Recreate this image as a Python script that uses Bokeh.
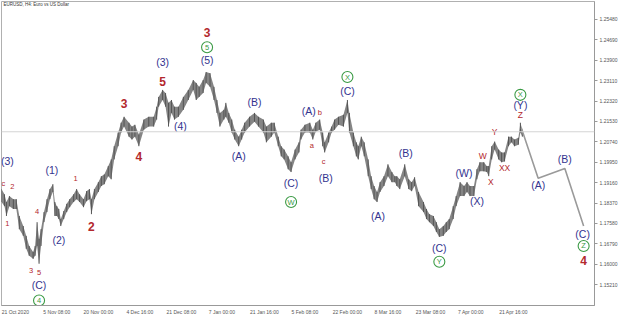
from bokeh.plotting import figure
from bokeh.models import FixedTicker, Span, Label, NumeralTickFormatter
from bokeh.embed import file_html
from bokeh.resources import INLINE
from bokeh.core.properties import value

bar = [0, 3, 5, 8, 12, 15, 18, 22, 25, 28,
       32, 34, 36, 38, 40, 43, 46, 49, 52, 54,
       56, 58, 60, 63, 66, 69, 73, 76, 79, 83,
       86, 89, 91, 94, 98, 101, 104, 108, 111, 114,
       118, 121, 124, 129, 132, 135, 139, 144, 149, 154,
       157, 159, 163, 166, 169, 172, 175, 179, 184, 189,
       194, 197, 200, 204, 207, 211, 215, 218, 221, 225,
       227, 230, 233, 236, 240, 243, 246, 251, 256, 260,
       265, 268, 273, 276, 280, 283, 286, 290, 293, 297,
       301, 303, 307, 312, 315, 318, 322, 325, 327, 331,
       334, 337, 341, 346, 350, 352, 356, 359, 361, 364,
       367, 371, 374, 377, 380, 383, 387, 391, 395, 398,
       400, 403, 408, 412, 415, 418, 422, 427, 430, 433,
       437, 440, 443, 447, 450, 453, 457, 460, 464, 468,
       471, 474, 478, 481, 484, 488, 491, 493, 496, 499,
       503, 506, 509, 513, 516, 519, 523, 525, 527]

high = [1.1891, 1.1871, 1.1841, 1.1864, 1.1852, 1.1852, 1.1787, 1.1748, 1.1710, 1.1671,
        1.1648, 1.1671, 1.1763, 1.1698, 1.1736, 1.1802, 1.1852, 1.1891, 1.1910, 1.1841,
        1.1825, 1.1814, 1.1775, 1.1806, 1.1834, 1.1852, 1.1871, 1.1891, 1.1871, 1.1852,
        1.1883, 1.1891, 1.1852, 1.1891, 1.1918, 1.1941, 1.1948, 1.1980, 1.2006, 1.2057,
        1.2110, 1.2148, 1.2171, 1.2148, 1.2133, 1.2140, 1.2102, 1.2160, 1.2171, 1.2171,
        1.2210, 1.2248, 1.2275, 1.2263, 1.2225, 1.2236, 1.2210, 1.2210, 1.2248, 1.2275,
        1.2313, 1.2302, 1.2287, 1.2313, 1.2344, 1.2340, 1.2287, 1.2236, 1.2186, 1.2198,
        1.2225, 1.2186, 1.2160, 1.2121, 1.2094, 1.2121, 1.2148, 1.2171, 1.2186, 1.2171,
        1.2160, 1.2133, 1.2148, 1.2148, 1.2094, 1.2057, 1.2044, 1.2018, 1.1995, 1.2044,
        1.2072, 1.2121, 1.2140, 1.2148, 1.2121, 1.2148, 1.2160, 1.2110, 1.2072, 1.2110,
        1.2133, 1.2160, 1.2171, 1.2179, 1.2236, 1.2186, 1.2110, 1.2072, 1.2057, 1.2094,
        1.2072, 1.2006, 1.1941, 1.1903, 1.1880, 1.1918, 1.1941, 1.1987, 1.1957, 1.1941,
        1.1941, 1.1929, 1.1987, 1.1929, 1.1918, 1.1937, 1.1880, 1.1841, 1.1814, 1.1794,
        1.1787, 1.1763, 1.1736, 1.1748, 1.1763, 1.1775, 1.1825, 1.1864, 1.1918, 1.1903,
        1.1918, 1.1903, 1.1903, 1.1968, 1.1995, 1.1995, 1.1980, 1.1980, 1.2057, 1.2075,
        1.2044, 1.2033, 1.2033, 1.2094, 1.2094, 1.2083, 1.2090, 1.2148, 1.2121]

low = [1.1841, 1.1825, 1.1787, 1.1825, 1.1814, 1.1814, 1.1736, 1.1710, 1.1660, 1.1633,
       1.1621, 1.1633, 1.1671, 1.1602, 1.1671, 1.1763, 1.1802, 1.1852, 1.1880, 1.1787,
       1.1787, 1.1775, 1.1748, 1.1775, 1.1802, 1.1821, 1.1841, 1.1852, 1.1841, 1.1821,
       1.1844, 1.1852, 1.1794, 1.1852, 1.1880, 1.1903, 1.1910, 1.1941, 1.1929, 1.2006,
       1.2057, 1.2110, 1.2133, 1.2094, 1.2083, 1.2094, 1.2057, 1.2121, 1.2133, 1.2133,
       1.2160, 1.2210, 1.2236, 1.2210, 1.2133, 1.2186, 1.2160, 1.2171, 1.2198, 1.2236,
       1.2275, 1.2236, 1.2248, 1.2263, 1.2302, 1.2287, 1.2236, 1.2186, 1.2133, 1.2160,
       1.2171, 1.2148, 1.2110, 1.2083, 1.2057, 1.2083, 1.2110, 1.2133, 1.2152, 1.2133,
       1.2110, 1.2072, 1.2094, 1.2110, 1.2057, 1.2018, 1.2006, 1.1968, 1.1957, 1.2006,
       1.2033, 1.2083, 1.2110, 1.2110, 1.2083, 1.2113, 1.2121, 1.2057, 1.2033, 1.2072,
       1.2110, 1.2121, 1.2140, 1.2133, 1.2186, 1.2110, 1.2057, 1.2018, 1.2006, 1.2057,
       1.2018, 1.1941, 1.1891, 1.1852, 1.1841, 1.1880, 1.1903, 1.1941, 1.1918, 1.1918,
       1.1903, 1.1891, 1.1941, 1.1891, 1.1883, 1.1903, 1.1825, 1.1802, 1.1775, 1.1763,
       1.1748, 1.1725, 1.1706, 1.1710, 1.1725, 1.1736, 1.1775, 1.1825, 1.1864, 1.1864,
       1.1880, 1.1864, 1.1864, 1.1929, 1.1960, 1.1960, 1.1957, 1.1941, 1.2006, 1.2044,
       1.2006, 1.1995, 1.1998, 1.2057, 1.2072, 1.2057, 1.2063, 1.2110, 1.2094]

# forecast path (A)-(B)-(C)
proj_bar = [526, 543, 570, 589]
proj_price = [1.2128, 1.1933, 1.1971, 1.1748]

current_price = 1.2113

# time labels (placed at their centres; each label starts at its time mark)
x_tick_bars = [14, 56, 98, 140, 182, 223, 266, 307, 350, 391, 434, 475, 518]
x_tick_labels = ["21 Oct 2020", "5 Nov 08:00", "20 Nov 00:00", "4 Dec 16:00",
                 "21 Dec 08:00", "7 Jan 00:00", "21 Jan 16:00", "5 Feb 08:00",
                 "22 Feb 00:00", "8 Mar 16:00", "23 Mar 08:00", "7 Apr 00:00",
                 "21 Apr 16:00"]
y_ticks = [1.1521, 1.1600, 1.1679, 1.1758, 1.1837, 1.1916, 1.1995,
           1.2074, 1.2153, 1.2232, 1.2311, 1.2390, 1.2469, 1.2548]

# wave labels
blue_text = ["(3)", "(C)", "(1)", "(2)", "(3)", "(4)", "(5)", "(A)", "(B)", "(C)",
             "(A)", "(B)", "(C)", "(A)", "(B)", "(C)", "(W)", "(X)", "(Y)",
             "(A)", "(B)", "(C)"]
blue_bar = [6, 38, 51, 58, 163, 181, 208, 240, 256, 293,
            311, 328, 350, 381, 409, 443, 468, 481, 525, 543, 570, 588]
blue_price = [1.1998, 1.1521, 1.1964, 1.1694, 1.2383, 1.2137, 1.2390, 1.2018, 1.2229, 1.1914,
              1.2194, 1.1933, 1.2271, 1.1787, 1.2029, 1.1664, 1.1952, 1.1844, 1.2217,
              1.1906, 1.2006, 1.1717]

red_big_text = ["2", "3", "4", "5", "3", "4"]
red_big_bar = [91, 124, 139, 163, 208, 589]
red_big_price = [1.1748, 1.2221, 1.2018, 1.2306, 1.2498, 1.1613]

red_small_text = ["c", "2", "1", "4", "3", "5", "1", "a", "b", "c"]
red_small_bar = [2, 11, 6, 36, 30, 38, 75, 314, 322, 326]
red_small_price = [1.1914, 1.1903, 1.1756, 1.1806, 1.1575, 1.1567, 1.1933, 1.2060, 1.2186, 1.1998]

red_mid_text = ["W", "X", "Y", "XX", "Z"]
red_mid_bar = [487, 495, 499, 509, 525]
red_mid_price = [1.2018, 1.1918, 1.2113, 1.1971, 1.2179]

green_text = ["4", "5", "W", "X", "Y", "X", "Z"]
green_bar = [38, 208, 293, 350, 443, 525, 589]
green_price = [1.1460, 1.2440, 1.1841, 1.2325, 1.1610, 1.2256, 1.1671]

BLUE = "#33338f"
RED = "#b3282d"
GREEN = "#3a9a44"
FONT = value("Liberation Sans")

p = figure(width=620, height=317, x_range=(0, 600), y_range=(1.14404, 1.26173),
           output_backend="svg", toolbar_location=None, y_axis_location="right",
           min_border_left=1, min_border_top=1, min_border_right=26, min_border_bottom=10)
p.background_fill_color = "white"
p.border_fill_color = "white"
p.outline_line_color = "#b0b0b0"
p.grid.visible = False

# current price line
p.add_layout(Span(location=current_price, dimension="width", line_color="#d4d4d4", line_width=1))

# bars
p.varea(x=bar, y1=low, y2=high, fill_color="#858585")
p.segment(x0=bar, y0=low, x1=bar, y1=high, line_color="#555555", line_width=1.0)

# forecast
p.line(proj_bar, proj_price, line_color="#9a9a9a", line_width=1.6)

# labels
p.text(x=blue_bar, y=blue_price, text=blue_text, text_color=BLUE, text_font=FONT,
       text_font_size="10.5px", text_align="center", text_baseline="middle")
p.text(x=red_big_bar, y=red_big_price, text=red_big_text, text_color=RED, text_font=FONT,
       text_font_size="12px", text_font_style="bold", text_align="center", text_baseline="middle")
p.text(x=red_small_bar, y=red_small_price, text=red_small_text, text_color=RED, text_font=FONT,
       text_font_size="7.5px", text_align="center", text_baseline="middle")
p.text(x=red_mid_bar, y=red_mid_price, text=red_mid_text, text_color=RED, text_font=FONT,
       text_font_size="8.5px", text_align="center", text_baseline="middle")
p.scatter(x=green_bar, y=green_price, marker="circle", size=11, fill_alpha=0,
          line_color=GREEN, line_width=1.1)
p.text(x=green_bar, y=green_price, text=green_text, text_color=GREEN, text_font=FONT,
       text_font_size="7.5px", text_align="center", text_baseline="middle")

# title
p.add_layout(Label(x=2, y=301, x_units="screen", y_units="screen",
                   text="EURUSD, H4:  Euro vs US Dollar", text_font_size="4.5px",
                   text_color="#333333", text_baseline="middle", text_font="Liberation Sans"))

# price box on the axis
p.add_layout(Label(x=595, y=current_price, x_units="screen", y_units="data",
                   text="1.21134", text_font_size="5px", text_color="#ffffff",
                   text_baseline="middle", background_fill_color="#c4c4c4",
                   text_font="Liberation Sans"))

# axes
ya = p.yaxis[0]
ya.ticker = FixedTicker(ticks=y_ticks)
ya.formatter = NumeralTickFormatter(format="0.00000")
ya.major_label_text_font_size = "5px"
ya.major_label_text_color = "#555555"
ya.major_label_text_font = "Liberation Sans"
ya.axis_line_color = "#999999"
ya.major_tick_line_color = "#999999"
ya.major_tick_out = 3
ya.major_tick_in = 0
ya.minor_tick_line_color = None
ya.major_label_standoff = 2

xa = p.xaxis[0]
xa.ticker = FixedTicker(ticks=x_tick_bars)
xa.major_label_overrides = {t: l for t, l in zip(x_tick_bars, x_tick_labels)}
xa.major_label_text_font_size = "5px"
xa.major_label_text_color = "#555555"
xa.major_label_text_font = "Liberation Sans"
xa.axis_line_color = "#999999"
xa.major_tick_line_color = None
xa.major_tick_out = 2
xa.major_tick_in = 0
xa.minor_tick_line_color = None
xa.major_label_standoff = 1

open("out.html", "w").write(file_html(p, INLINE))
